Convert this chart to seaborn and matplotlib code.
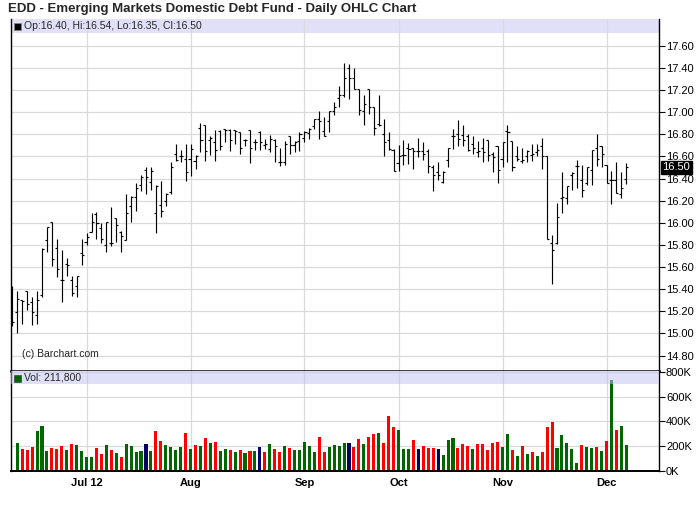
import numpy as np
import pandas as pd
import matplotlib
matplotlib.use("Agg")
import matplotlib.pyplot as plt
from matplotlib.patches import Rectangle
import seaborn as sns

# ---------------- data ----------------
holidays = ["2012-07-04", "2012-09-03", "2012-10-29", "2012-10-30", "2012-11-22"]
dates = pd.bdate_range("2012-06-11", "2012-12-07", freq="C", holidays=holidays)

opens = [15.31, 15.19, 15.30, 15.38, 15.28, 15.17, 15.35, 15.84, 16.01, 15.77,
         15.48, 15.63, 15.48, 15.43, 15.73, 15.83, 15.92, 16.08, 15.95, 15.80,
         15.82, 16.04, 15.92, 15.84, 16.15, 16.23, 16.34, 16.48, 16.37, 16.09,
         16.16, 16.20, 16.28, 16.62, 16.60, 16.58, 16.58, 16.56, 16.86, 16.88,
         16.75, 16.73, 16.83, 16.85, 16.84, 16.84, 16.82, 16.75, 16.84, 16.73,
         16.82, 16.70, 16.67, 16.75, 16.55, 16.55, 16.78, 16.70, 16.74, 16.77,
         16.81, 16.87, 16.94, 16.83, 16.92, 17.01, 17.13, 17.15, 17.40, 17.31,
         17.21, 17.01, 17.21, 17.05, 16.89, 16.80, 16.75, 16.66, 16.54, 16.61,
         16.68, 16.68, 16.65, 16.65, 16.65, 16.50, 16.46, 16.37, 16.57, 16.78,
         16.80, 16.79, 16.78, 16.71, 16.64, 16.68, 16.75, 16.62, 16.69, 16.58,
         16.83, 16.74, 16.60, 16.56, 16.60, 16.61, 16.64, 16.69, 16.60, 15.82,
         15.82, 16.22, 16.22, 16.43, 16.51, 16.39, 16.36, 16.48, 16.68, 16.69,
         16.52, 16.39, 16.39, 16.26, 16.40]
highs = [15.43, 15.38, 15.30, 15.38, 15.33, 15.38, 15.77, 15.96, 16.01, 15.85,
         15.75, 15.68, 15.52, 15.52, 15.85, 15.91, 16.09, 16.10, 16.00, 16.01,
         16.14, 16.04, 15.93, 16.26, 16.24, 16.36, 16.43, 16.50, 16.50, 16.34,
         16.38, 16.27, 16.55, 16.71, 16.66, 16.71, 16.71, 16.61, 16.90, 16.88,
         16.78, 16.84, 16.84, 16.85, 16.85, 16.84, 16.82, 16.76, 16.84, 16.76,
         16.83, 16.76, 16.79, 16.76, 16.68, 16.74, 16.78, 16.74, 16.82, 16.83,
         16.86, 16.94, 17.01, 16.96, 17.01, 17.09, 17.24, 17.44, 17.43, 17.40,
         17.21, 17.15, 17.21, 17.05, 17.15, 16.94, 16.82, 16.67, 16.70, 16.75,
         16.72, 16.68, 16.77, 16.73, 16.67, 16.52, 16.55, 16.47, 16.68, 16.85,
         16.93, 16.88, 16.80, 16.78, 16.74, 16.77, 16.75, 16.64, 16.69, 16.73,
         16.88, 16.74, 16.69, 16.68, 16.66, 16.71, 16.71, 16.77, 16.60, 15.89,
         16.18, 16.46, 16.33, 16.46, 16.57, 16.52, 16.50, 16.66, 16.80, 16.69,
         16.52, 16.47, 16.55, 16.46, 16.54]
lows = [15.07, 15.00, 15.09, 15.21, 15.08, 15.09, 15.33, 15.74, 15.61, 15.51,
        15.28, 15.52, 15.34, 15.33, 15.62, 15.80, 15.92, 15.85, 15.82, 15.74,
        15.79, 15.83, 15.74, 15.84, 16.01, 16.11, 16.29, 16.26, 16.30, 15.91,
        16.05, 16.15, 16.26, 16.56, 16.55, 16.38, 16.42, 16.49, 16.64, 16.56,
        16.61, 16.56, 16.66, 16.73, 16.65, 16.71, 16.62, 16.69, 16.54, 16.66,
        16.66, 16.67, 16.64, 16.55, 16.51, 16.52, 16.62, 16.64, 16.65, 16.73,
        16.76, 16.85, 16.76, 16.78, 16.82, 16.97, 17.05, 17.14, 17.12, 17.21,
        16.97, 16.88, 16.98, 16.79, 16.87, 16.60, 16.66, 16.47, 16.47, 16.52,
        16.53, 16.49, 16.59, 16.57, 16.45, 16.29, 16.39, 16.36, 16.50, 16.67,
        16.69, 16.69, 16.65, 16.62, 16.59, 16.55, 16.56, 16.46, 16.36, 16.50,
        16.55, 16.47, 16.56, 16.54, 16.55, 16.56, 16.60, 16.49, 15.85, 15.45,
        15.81, 16.09, 16.17, 16.30, 16.31, 16.23, 16.34, 16.34, 16.51, 16.50,
        16.36, 16.17, 16.27, 16.22, 16.35]
closes = [15.10, 15.31, 15.29, 15.27, 15.19, 15.30, 15.76, 15.96, 15.67, 15.58,
          15.48, 15.62, 15.37, 15.52, 15.71, 15.87, 16.01, 16.00, 15.85, 16.01,
          15.82, 15.98, 15.88, 16.09, 16.23, 16.31, 16.41, 16.41, 16.47, 16.33,
          16.11, 16.26, 16.50, 16.57, 16.60, 16.46, 16.67, 16.60, 16.75, 16.65,
          16.77, 16.66, 16.69, 16.84, 16.75, 16.83, 16.68, 16.75, 16.68, 16.73,
          16.73, 16.71, 16.76, 16.69, 16.55, 16.71, 16.70, 16.73, 16.80, 16.82,
          16.85, 16.94, 16.92, 16.78, 17.01, 17.05, 17.15, 17.31, 17.31, 17.21,
          17.02, 17.07, 17.05, 16.86, 16.88, 16.73, 16.67, 16.47, 16.60, 16.61,
          16.67, 16.65, 16.65, 16.62, 16.51, 16.43, 16.43, 16.46, 16.68, 16.78,
          16.76, 16.75, 16.66, 16.68, 16.65, 16.64, 16.61, 16.59, 16.48, 16.73,
          16.82, 16.50, 16.58, 16.57, 16.65, 16.62, 16.66, 16.60, 15.85, 15.75,
          16.05, 16.23, 16.33, 16.45, 16.51, 16.30, 16.50, 16.66, 16.58, 16.62,
          16.36, 16.39, 16.27, 16.31, 16.50]
volumes = [np.nan,
           225000, 177000, 169000, 193000, 322000, 362000, 161000, 185000, 177000, 201000,
           169000, 217000, 209000, 161000, 113000, 113000, 185000, 137000, 209000, 169000,
           145000, 113000, 217000, 201000, 153000, 161000, 217000, 161000, 322000, 242000,
           209000, 193000, 169000, 193000, 306000, 177000, 209000, 201000, 266000, 225000,
           234000, 161000, 177000, 169000, 153000, 169000, 145000, 161000, 161000, 193000,
           153000, 217000, 177000, 153000, 201000, 185000, 169000, 169000, 234000, 201000,
           153000, 274000, 153000, 193000, 209000, 201000, 225000, 225000, 193000, 258000,
           217000, 274000, 298000, 306000, 225000, 443000, 354000, 330000, 177000, 177000,
           250000, 177000, 201000, 185000, 185000, 177000, 129000, 250000, 266000, 185000,
           217000, 201000, 177000, 217000, 217000, 169000, 225000, 234000, 193000, 298000,
           169000, 121000, 201000, 137000, 153000, 121000, 153000, 354000, 395000, 185000,
           290000, 225000, 177000, 64000, 209000, 193000, 185000, 193000, 161000, 242000,
           733000, 330000, 362000, 211800]

title = "EDD - Emerging Markets Domestic Debt Fund - Daily OHLC Chart"
price_ticks = [14.80, 15.00, 15.20, 15.40, 15.60, 15.80, 16.00, 16.20,
               16.40, 16.60, 16.80, 17.00, 17.20, 17.40, 17.60]
vol_ticks = [0, 200000, 400000, 600000, 800000]
vol_tick_labels = ["0K", "200K", "400K", "600K", "800K"]
month_labels = ["Jul 12", "Aug", "Sep", "Oct", "Nov", "Dec"]

# ---------------- frame ----------------
df = pd.DataFrame({"date": dates, "open": opens, "high": highs, "low": lows,
                   "close": closes, "volume": volumes})
df["idx"] = np.arange(len(df))
chg = df["close"].diff().round(4)
df["dir"] = np.where(chg > 0, "up", np.where(chg < 0, "down", "flat"))
month_idx = df.index[df["date"].dt.month != df["date"].dt.month.shift(1)].tolist()[1:]

sns.set_style("white")
plt.rcParams["font.family"] = ["Liberation Sans", "DejaVu Sans"]

W, H = 700, 512
fig = plt.figure(figsize=(W / 100, H / 100), dpi=100)
def fx(px): return px / W
def fy(py): return 1 - py / H

L, R = 10.7, 659.0
axp = fig.add_axes([fx(L), fy(371), fx(R) - fx(L), fy(19) - fy(371)])
axv = fig.add_axes([fx(L), fy(471), fx(R) - fx(L), fy(371) - fy(471)])

gc = "#dadada"
xlim = (-0.32, 130.6)
px_lw = 0.72  # one pixel

# ---- price panel ----
axp.add_patch(Rectangle((0, 1 - 14 / 352), 1, 14 / 352, transform=axp.transAxes,
                        facecolor="#e0e0f8", edgecolor="none", zorder=0.5))
for t in price_ticks:
    axp.axhline(t, color=gc, lw=0.9, zorder=1)
for m in month_idx:
    axp.axvline(m, color=gc, lw=0.9, zorder=1)

x = df["idx"].to_numpy()
axp.vlines(x, df["low"], df["high"], color="black", lw=px_lw * 1.15, zorder=3)
axp.hlines(df["open"], x - 0.42, x, color="black", lw=px_lw * 1.15, zorder=3)
axp.hlines(df["close"], x, x + 0.42, color="black", lw=px_lw * 1.15, zorder=3)

axp.set_xlim(*xlim)
axp.set_ylim(14.661, 17.841)
axp.yaxis.tick_right()
axp.set_yticks(price_ticks)
axp.set_yticklabels([f"{t:.2f}" for t in price_ticks], fontsize=8)
axp.tick_params(axis="y", direction="out", length=4, width=0.8, pad=1, colors="black")
axp.set_xticks([])
axp.spines["top"].set_visible(False)
axp.spines["left"].set_linewidth(1.0)
axp.spines["right"].set_linewidth(1.0)
axp.spines["bottom"].set_linewidth(1.8)
for s in axp.spines.values():
    s.set_color("black")

last = df.iloc[-1]
axp.text(1.0055, last["close"], f"{last['close']:.2f}", transform=axp.get_yaxis_transform(),
         ha="left", va="center", fontsize=8, color="white", zorder=6,
         bbox=dict(boxstyle="square,pad=0.12", facecolor="black", edgecolor="black"))
axp.text(0.018, 0.047, "(c) Barchart.com", transform=axp.transAxes, fontsize=7.5,
         ha="left", va="center")

# ---- volume panel ----
for v in vol_ticks[1:]:
    axv.axhline(v, color=gc, lw=0.9, zorder=0.6)
for m in month_idx:
    axv.axvline(m, color=gc, lw=0.9, zorder=0.6)
sns.barplot(data=df, x="idx", y="volume", hue="dir", order=list(df["idx"]),
            palette={"up": "#006600", "down": "#ff0000", "flat": "#000066"},
            width=0.62, dodge=False, saturation=1, legend=False, errorbar=None,
            linewidth=0, ax=axv, zorder=2)
axv.add_patch(Rectangle((0, 0.87), 1, 0.13, transform=axv.transAxes,
                        facecolor="#c1c1f1", alpha=0.5, edgecolor="none", zorder=4))
axv.set_xlim(*xlim)
axv.set_ylim(0, 808000)
axv.yaxis.tick_right()
axv.set_yticks(vol_ticks)
axv.set_yticklabels(vol_tick_labels, fontsize=8)
axv.tick_params(axis="y", direction="out", length=4, width=0.8, pad=1, colors="black")
axv.set_xticks(month_idx)
axv.set_xticklabels(month_labels, fontsize=8, fontweight="bold")
axv.tick_params(axis="x", direction="out", length=3, width=0.8, pad=2, colors="black")
axv.set_xlabel("")
axv.set_ylabel("")
axv.spines["top"].set_visible(False)
for s in ["left", "right", "bottom"]:
    axv.spines[s].set_visible(True)
    axv.spines[s].set_color("black")
    axv.spines[s].set_linewidth(1.0)
axv.spines["bottom"].set_linewidth(1.4)

# ---- header texts ----
fig.text(fx(8), fy(9), title, fontsize=9.5, fontweight="bold", ha="left", va="center")
fig.add_artist(Rectangle((fx(14), fy(30)), fx(7), 7 / H, facecolor="black",
                         edgecolor="#888888", lw=0.5, transform=fig.transFigure))
fig.text(fx(24), fy(26), f"Op:{last['open']:.2f}, Hi:{last['high']:.2f}, "
         f"Lo:{last['low']:.2f}, Cl:{last['close']:.2f}",
         fontsize=7.5, ha="left", va="center")
fig.add_artist(Rectangle((fx(14), fy(382)), fx(7), 7 / H, facecolor="#006600",
                         edgecolor="#444444", lw=0.5, transform=fig.transFigure))
fig.text(fx(24), fy(378), f"Vol: {int(last['volume']):,}", fontsize=7.5,
         ha="left", va="center")

fig.savefig("out.png", dpi=100)
